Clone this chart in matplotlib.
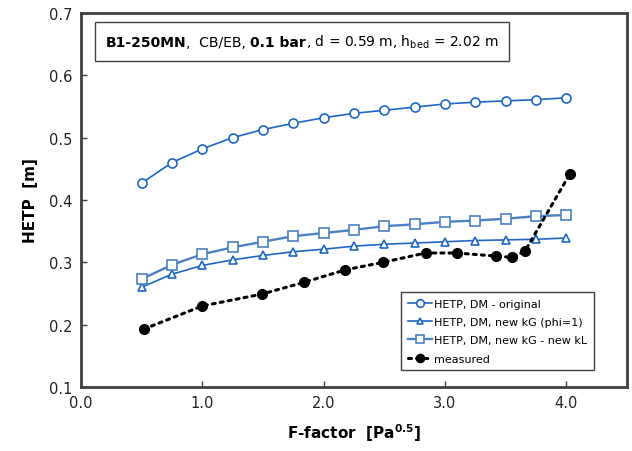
import numpy as np
import matplotlib
matplotlib.use("Agg")
import matplotlib.pyplot as plt
from matplotlib.offsetbox import TextArea, HPacker, AnchoredOffsetbox

# F-factor grid of the model curves
f_model = [0.5, 0.75, 1.0, 1.25, 1.5, 1.75, 2.0, 2.25, 2.5, 2.75, 3.0, 3.25, 3.5, 3.75, 4.0]
hetp_original = [0.427, 0.460, 0.482, 0.500, 0.513, 0.523, 0.532, 0.539, 0.544,
                 0.549, 0.554, 0.557, 0.559, 0.561, 0.564]
hetp_new_kg = [0.260, 0.281, 0.295, 0.304, 0.311, 0.317, 0.321, 0.326, 0.329,
               0.331, 0.333, 0.335, 0.336, 0.337, 0.339]
hetp_new_kg_kl = [0.273, 0.296, 0.313, 0.324, 0.333, 0.342, 0.347, 0.352, 0.358,
                  0.361, 0.365, 0.367, 0.370, 0.374, 0.376]

# measured points
f_meas = [0.52, 1.00, 1.49, 1.84, 2.18, 2.49, 2.84, 3.10, 3.42, 3.55, 3.66, 4.03]
hetp_meas = [0.193, 0.230, 0.249, 0.268, 0.288, 0.300, 0.315, 0.315, 0.310, 0.308, 0.318, 0.442]

blue = "#1F66C6"
blue2 = "#4C80C4"
spine = "#404040"

fig = plt.figure(figsize=(6.32, 4.52), dpi=100)
ax = fig.add_axes([0.128, 0.1416, 0.864, 0.8274])

ax.plot(f_model, hetp_original, "-o", color=blue, lw=1.2, ms=6.5, mfc="white",
        mec=blue, mew=1.2, label="HETP, DM - original")
ax.plot(f_model, hetp_new_kg, "-^", color=blue, lw=1.2, ms=5.5, mfc="white",
        mec=blue, mew=1.2, label="HETP, DM, new kG (phi=1)")
ax.plot(f_model, hetp_new_kg_kl, "-s", color=blue2, lw=1.7, ms=6.5, mfc="white",
        mec=blue2, mew=1.2, label="HETP, DM, new kG - new kL")
ax.plot(f_meas, hetp_meas, ":o", color="black", lw=2.2, ms=7,
        label="measured", dash_capstyle="round")

ax.set_xlim(0, 4.5)
ax.set_ylim(0.1, 0.7)
ax.set_xticks([0, 1, 2, 3, 4])
ax.set_xticklabels(["0.0", "1.0", "2.0", "3.0", "4.0"])
ax.set_yticks(np.arange(0.1, 0.71, 0.1))
ax.set_yticklabels(["0.1", "0.2", "0.3", "0.4", "0.5", "0.6", "0.7"])
ax.tick_params(direction="in", length=4, width=1, colors=spine, labelcolor="#222222",
               labelsize=10.5, pad=6)
for s in ax.spines.values():
    s.set_color(spine)
    s.set_linewidth(2)

ax.set_xlabel(r"F-factor  [Pa$^{\mathbf{0.5}}$]", fontsize=11, fontweight="bold", labelpad=8)
ax.set_ylabel("HETP  [m]", fontsize=11, fontweight="bold", labelpad=8)

leg = ax.legend(loc="lower right", bbox_to_anchor=(0.95, 0.03), fontsize=8,
                fancybox=False, edgecolor=spine, framealpha=1, handlelength=2.2,
                handletextpad=0.2, borderpad=0.6, labelspacing=0.75, markerscale=0.85)
leg.get_frame().set_linewidth(1)

# header box
tp = dict(fontsize=10, color="black")
parts = [
    TextArea("B1-250MN", textprops=dict(tp, fontweight="bold")),
    TextArea(",  CB/EB, ", textprops=tp),
    TextArea("0.1 bar", textprops=dict(tp, fontweight="bold")),
    TextArea(", d = 0.59 m, h$_{\\mathrm{bed}}$ = 2.02 m", textprops=tp),
]
box = HPacker(children=parts, align="baseline", pad=0, sep=0)
anch = AnchoredOffsetbox(loc="upper left", child=box, pad=0.75, borderpad=0,
                         frameon=True, bbox_to_anchor=(0.026, 0.975),
                         bbox_transform=ax.transAxes)
anch.patch.set_edgecolor(spine)
anch.patch.set_linewidth(1)
anch.patch.set_boxstyle("square", pad=0)
ax.add_artist(anch)

fig.savefig("out.png", dpi=100)
